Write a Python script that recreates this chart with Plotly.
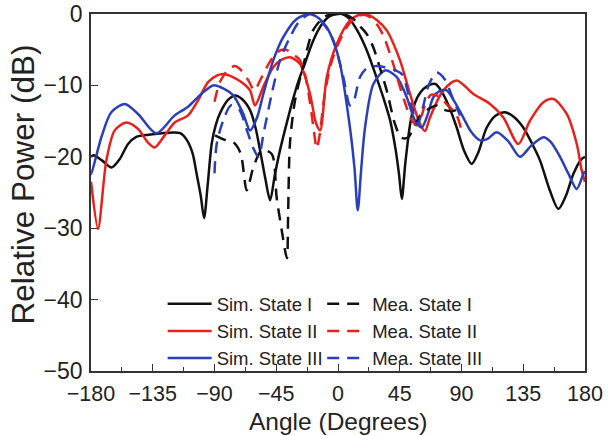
import plotly.graph_objects as go

# ---- data ----
sim1_ang = [-180, -178, -172, -165, -159, -153, -147, -138, -128, -120, -115, -110, -106, -103, -100, -97.6, -95, -92, -89, -86, -80, -75, -70, -64, -60, -56.8, -53, -49.5, -46, -42.3, -37, -33, -29, -25, -18, -12, -6, 0, 3, 8, 14, 21, 28, 34, 38, 42, 44.5, 46.5, 49, 52.5, 56, 60, 65, 71, 76, 81, 86.5, 92, 97.4, 102, 108.4, 115, 121.7, 128, 135, 141, 147.2, 154, 160.6, 166, 171.5, 177.6, 180]
sim1_db = [-20, -19.8, -20.5, -21.5, -20.3, -18.2, -17.2, -16.9, -16.7, -16.6, -16.7, -17.7, -19.5, -22.4, -25.5, -28.6, -24, -18.1, -15.5, -13.9, -12.0, -11.4, -11.9, -13.5, -16, -19.1, -23, -26.1, -22.5, -19.1, -15, -12.1, -9.5, -7.4, -3.7, -1.5, -0.3, 0, 0, -0.6, -2.3, -5.1, -8.85, -12.3, -14.9, -19, -22.5, -25.9, -21, -15.5, -12.5, -11.0, -10.1, -9.8, -11, -13, -15.9, -19.2, -21, -19.5, -15.9, -14.2, -13.75, -14.4, -15.9, -18, -20.5, -24.5, -27.3, -25.5, -22.4, -20.3, -20]

sim2_ang = [-180, -179.8, -174.9, -168.8, -162.7, -154.3, -145.7, -138.5, -133.6, -126.3, -119, -109.3, -102, -94.7, -88, -83.6, -77, -70, -64.1, -60.5, -54, -47.2, -41, -35, -27.7, -20.4, -16, -13, -8.2, -0.9, 8.7, 15, 20.9, 28, 35.5, 45.2, 52.5, 59.8, 63.4, 67, 76.7, 86.5, 98.6, 110.8, 120.5, 131.4, 140, 149.7, 157, 166.7, 174, 177.6, 180]
sim2_db = [-23.5, -23.8, -30.1, -20.5, -16.3, -15.2, -16.1, -18, -18.7, -17, -15.2, -14.2, -12.1, -9.55, -8.6, -8.4, -8.8, -9.6, -10.7, -12.8, -10.0, -7.45, -6.4, -6.05, -7.0, -11.2, -15.3, -16.3, -8.85, -4.2, -0.9, -0.15, -0.05, -0.8, -2.3, -6.5, -11.2, -15.4, -16.4, -14.5, -10.7, -9.3, -11.2, -12.6, -14.5, -18.2, -14.9, -12.35, -11.9, -14.0, -18.2, -21.9, -23.5]

sim3_ang = [-180, -179.8, -172.5, -165.2, -155.4, -145.7, -132.4, -119, -109.3, -99.6, -90.9, -83, -76.3, -69, -64.1, -59, -54.4, -47.2, -39.9, -30.1, -20.4, -14, -8.2, -3, 1.5, 8.7, 12, 14.4, 17, 19.7, 25.8, 34.3, 42.8, 50.1, 56.1, 61, 65, 69.5, 74, 79.2, 85, 91.3, 97, 103.5, 109, 115.6, 124, 132.6, 141, 149.7, 155, 161.8, 168, 174, 178.8, 180]
sim3_db = [-22.3, -22.4, -17.3, -13.75, -12.6, -14, -16.7, -14.2, -13, -11.2, -10.0, -10.5, -11.4, -14, -16.3, -14.5, -11.2, -6.5, -3.25, -0.7, 0, -0.6, -1.85, -4.0, -7.0, -15.9, -21.5, -27.5, -21.5, -15.9, -9.8, -7.9, -8.85, -11.65, -14.9, -15.9, -14.3, -11.65, -10.8, -10.7, -12.3, -14.5, -16.5, -17.7, -17.5, -16.55, -17.8, -20, -18.4, -17.25, -17.9, -20, -22.4, -24.5, -22.4, -22.0]

mea1_ang = [-89.6, -83, -76.3, -71, -66.5, -61.7, -55.6, -48.3, -44.7, -41, -38.6, -37.2, -36.3, -35, -31.3, -25.5, -18.2, -10, -3, 3, 8, 12.4, 16, 20.9, 25.7, 30, 35.5, 41.5, 46, 51, 55, 60, 66, 72, 77, 83, 90]
mea1_db = [-17, -17.6, -17.95, -19.5, -24.7, -21.5, -19.1, -19.6, -25.7, -30.3, -33.1, -34.2, -27.5, -18.1, -12.1, -7.4, -2.3, -0.4, 0, 0, -0.3, -0.9, -1.7, -2.8, -4.65, -7.2, -10.7, -15.4, -17.3, -17.3, -16, -14.2, -13.3, -12.8, -13.4, -13.6, -13.2]

mea2_ang = [-90, -86, -80, -75, -70, -65, -61, -56, -50, -44, -38, -33, -28, -24, -20.4, -17.5, -15.5, -13, -10.7, -5.8, -0.9, 6.4, 12, 18.4, 23, 28.2, 33, 37.9, 41.5, 45.2, 49, 52.5, 57.4, 61, 64, 68, 74, 80, 86, 90]
mea2_db = [-12.3, -9.5, -7.8, -7.3, -8.0, -9.4, -10.7, -9.0, -6.8, -5.3, -5.0, -5.6, -6.4, -8.5, -12.4, -16.5, -18.8, -16.5, -12.6, -7.45, -4.65, -1.85, -0.6, -0.1, -0.4, -1.4, -3.0, -5.6, -7.8, -10.25, -12.5, -14.45, -15.6, -14.2, -12.4, -11.3, -11.6, -12.8, -14.0, -16.3]

mea3_ang = [-90, -88.4, -83.6, -78, -72, -66, -61.7, -58, -54, -48.3, -42.3, -35, -28, -20.4, -15.5, -9, -3.4, 3.9, 8.7, 11, 16, 21, 28, 35, 42, 47, 51, 55, 58, 62, 66, 72, 78, 84, 89]
mea3_db = [-22.3, -18.2, -14.9, -12.8, -13.4, -16.5, -18.8, -20, -16.5, -11.2, -6.5, -3.25, -1.0, 0, -0.45, -1.8, -3.7, -8.85, -12.8, -12.5, -8.85, -7.6, -7.3, -7.5, -7.9, -8.5, -11, -14, -15.5, -13, -10, -8.2, -9.2, -12, -14.2]

x_ticks = [-180, -135, -90, -45, 0, 45, 90, 135, 180]
y_ticks = [0, -10, -20, -30, -40, -50]

BLACK = "#111111"
RED = "#e8211d"
BLUE = "#2b3fb8"
FONT = "Liberation Sans, Arial, sans-serif"

fig = go.Figure()

def add(ang, db, name, color, dash, legend):
    fig.add_trace(go.Scatter(
        x=ang, y=db, name=name, mode="lines",
        line=dict(color=color, width=2.5, dash=dash, shape="spline", smoothing=0.8),
        legend=legend))

add(sim1_ang, sim1_db, "Sim. State I", BLACK, "solid", "legend")
add(sim2_ang, sim2_db, "Sim. State II", RED, "solid", "legend")
add(sim3_ang, sim3_db, "Sim. State III", BLUE, "solid", "legend")
add(mea1_ang, mea1_db, "Mea. State I", BLACK, "12px,8px", "legend2")
add(mea2_ang, mea2_db, "Mea. State II", RED, "12px,8px", "legend2")
add(mea3_ang, mea3_db, "Mea. State III", BLUE, "12px,8px", "legend2")

axis_common = dict(
    showline=True, linecolor="#333333", linewidth=1.6, mirror=True,
    ticks="inside", tickcolor="#333333", tickwidth=1.4, ticklen=7,
    showgrid=False, zeroline=False, automargin=False,
)

fig.update_xaxes(range=[-180, 180], tickvals=x_ticks, ticklabelstandoff=2,
                 tickfont=dict(family=FONT, size=21.5, color="#222222"),
                 minor=dict(ticks="inside", ticklen=4, tickwidth=1.2, tickcolor="#333333", dtick=22.5, tick0=-180),
                 **axis_common)
fig.update_yaxes(range=[-50, 0], tickvals=y_ticks, ticklabelstandoff=2,
                 tickfont=dict(family=FONT, size=23, color="#222222"),
                 **axis_common)

legend_common = dict(
    bgcolor="rgba(0,0,0,0)", borderwidth=0, orientation="v",
    font=dict(family=FONT, size=18.5, color="#222222"),
    yanchor="top", xanchor="left", tracegroupgap=0,
)

fig.update_layout(
    template="none",
    width=608, height=436,
    margin=dict(l=91, r=23, t=14, b=65, autoexpand=False),
    paper_bgcolor="white", plot_bgcolor="white",
    showlegend=True,
    legend=dict(x=0.145, y=0.24, itemwidth=44, **legend_common),
    legend2=dict(x=0.468, y=0.24, itemwidth=40, **legend_common),
    annotations=[
        dict(text="Angle (Degrees)", xref="paper", yref="paper", x=0.5, y=-0.141,
             xanchor="center", yanchor="middle", showarrow=False,
             font=dict(family=FONT, size=24.5, color="#222222")),
        dict(text="Relative Power (dB)", xref="paper", yref="paper", x=-0.137, y=0.523,
             xanchor="center", yanchor="middle", textangle=-90, showarrow=False,
             font=dict(family=FONT, size=31.5, color="#222222")),
    ],
)

fig.write_html("out.html")
